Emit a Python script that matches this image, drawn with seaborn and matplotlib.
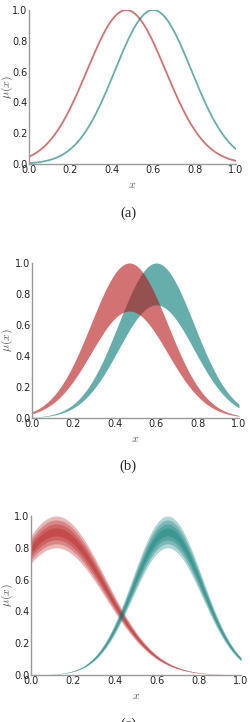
import numpy as np
import pandas as pd
import matplotlib
matplotlib.use("Agg")
import matplotlib.pyplot as plt
import seaborn as sns

# ---- data ----
set_names = ["A", "B"]
# panel (a): type-1 Gaussian membership functions
means_a = [0.47, 0.60]
sigmas_a = [0.190, 0.185]
# panel (b): interval type-2 (upper height 1, lower height scaled)
means_b = [0.47, 0.60]
sigmas_b = [0.185, 0.182]
lower_heights_b = [0.69, 0.73]
# panel (c): nested bands (alpha-planes)
means_c = [0.12, 0.65]
sigmas_c = [0.235, 0.167]
upper_heights_c = [1.00, 0.975, 0.95, 0.925]
lower_heights_c = [0.80, 0.825, 0.85, 0.875]

xticks = [0.0, 0.2, 0.4, 0.6, 0.8, 1.0]
yticks = [0.0, 0.2, 0.4, 0.6, 0.8, 1.0]
captions = ["(a)", "(b)", "(c)"]

RED = "#b41414"
TEAL = "#007873"
colors = [RED, TEAL]

sns.set_style("white")
plt.rcParams["font.family"] = ["DejaVu Sans"]
plt.rcParams["mathtext.fontset"] = "cm"

x = np.linspace(0, 1, 301)

def gauss(x, m, s):
    return np.exp(-(x - m) ** 2 / (2 * s ** 2))

fig = plt.figure(figsize=(2.5, 7.22), dpi=100)

ax_a = fig.add_axes([29/250, 1-164/722, 207/250, 154/722])
ax_b = fig.add_axes([32/250, 1-418/722, 207/250, 155/722])
ax_c = fig.add_axes([31/250, 1-675/722, 210/250, 159/722])

# panel (a)
rows = []
for name, m, s in zip(set_names, means_a, sigmas_a):
    for xi, yi in zip(x, gauss(x, m, s)):
        rows.append({"x": xi, "mu": yi, "set": name})
df_a = pd.DataFrame(rows)
sns.lineplot(data=df_a, x="x", y="mu", hue="set", palette=colors,
             ax=ax_a, legend=False, linewidth=1.3, alpha=0.6)

# panel (b): teal drawn first, red on top
order = [1, 0]
for i in order:
    g = gauss(x, means_b[i], sigmas_b[i])
    ax_b.fill_between(x, lower_heights_b[i] * g, g, color=colors[i],
                      alpha=0.6, linewidth=0)

# panel (c)
for m, s, c in zip(means_c, sigmas_c, colors):
    g = gauss(x, m, s)
    for uh, lh in zip(upper_heights_c, lower_heights_c):
        ax_c.fill_between(x, lh * g, uh * g, color=c, alpha=0.3, linewidth=0)

for ax, cap, left in zip([ax_a, ax_b, ax_c], captions, [29, 32, 31]):
    ax.set_xlim(0, 1)
    ax.set_ylim(0, 1)
    ax.set_xticks(xticks)
    ax.set_yticks(yticks)
    ax.set_xticklabels([f"{t:.1f}" for t in xticks])
    ax.set_yticklabels([f"{t:.1f}" for t in yticks])
    ax.tick_params(length=0, pad=1, labelsize=7, colors="#222222")
    sns.despine(ax=ax)
    for sp in ["left", "bottom"]:
        ax.spines[sp].set_color("#999999")
        ax.spines[sp].set_linewidth(1.0)
    ax.set_xlabel("$x$", fontsize=8.5, color="#555555")
    ax.set_ylabel(r"$\mu(x)$", fontsize=8.5, color="#555555")
    w = ax.get_position().width * 250
    ax.yaxis.set_label_coords((15 - left) / w, 0.5)
    ax.xaxis.set_label_coords(0.5, -14 / (ax.get_position().height * 722))

fig.text(128/250, 1-213/722, "(a)", ha="center", va="center",
         family="Liberation Serif", fontsize=10.5)
fig.text(128/250, 1-466/722, "(b)", ha="center", va="center",
         family="Liberation Serif", fontsize=10.5)
fig.text(128/250, 1-724/722, "(c)", ha="center", va="center",
         family="Liberation Serif", fontsize=10.5)

fig.savefig("out.png", dpi=100)
